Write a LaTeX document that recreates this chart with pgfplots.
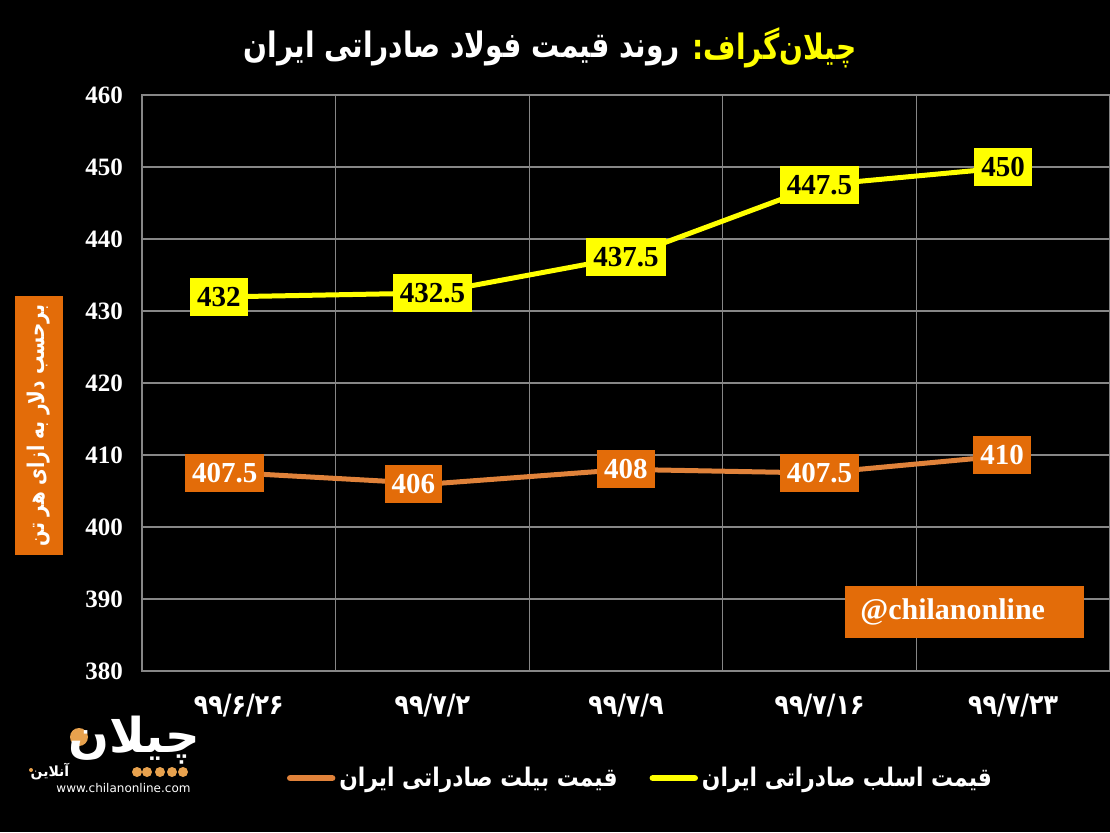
\documentclass[border=0pt]{standalone}
\usepackage{pgfplots}
\pgfplotsset{compat=1.18}
\usepackage{fontspec}
\TeXXeTstate=1
\setmainfont{Liberation Serif}
\newfontfamily\arabicfont[Script=Arabic]{DejaVu Sans}
\newfontfamily\arabiccond[Script=Arabic, FakeStretch=0.8]{DejaVu Sans}
\newfontfamily\arabicleg[Script=Arabic, FakeStretch=0.85]{DejaVu Sans}
\newfontfamily\latinsans{DejaVu Sans}
\definecolor{myorange}{HTML}{E36C09}
\definecolor{billet}{HTML}{E0823A}
\definecolor{slab}{HTML}{FFFF00}
\definecolor{gridgray}{HTML}{868686}
\definecolor{logoorange}{HTML}{E8A24E}
\begin{document}
\begin{tikzpicture}
\fill[black] (0,0) rectangle (555pt,416pt);
\begin{axis}[
 at={(71pt,80.5pt)}, anchor=south west, scale only axis, width=484pt, height=288pt,
 xmin=0, xmax=5, ymin=380, ymax=460,
 xtick={0.5,1.5,2.5,3.5,4.5},
 xticklabels={۹۹/۶/۲۶,۹۹/۷/۲,۹۹/۷/۹,۹۹/۷/۱۶,۹۹/۷/۲۳},
 minor xtick={1,2,3,4},
 xminorgrids=true, xmajorgrids=false, ymajorgrids=true,
 ytick={380,390,400,410,420,430,440,450,460},
 yticklabels={380,390,400,410,420,430,440,450,460},
 major tick length=0pt, minor tick length=0pt,
 axis line style={gridgray, line width=0.6pt},
 grid style={gridgray, line width=0.6pt},
 minor grid style={gridgray, line width=0.6pt},
 xticklabel style={font=\arabicleg\bfseries\fontsize{14}{16}\selectfont, text=white, yshift=-8pt},
 yticklabel style={font=\bfseries\fontsize{12.5}{14}\selectfont, text=white, xshift=-6pt},
 legend style={at={(0.516,-0.186)}, anchor=center, draw=none, fill=none, text=white,
   font=\arabicleg\bfseries\fontsize{12.8}{15}\selectfont, legend columns=2,
   /tikz/every even column/.append style={column sep=14pt}},
 legend image code/.code={\draw[#1, line width=3.2pt, line cap=round] (0pt,0pt) -- (21pt,0pt);},
]
\addplot[billet, line width=2.5pt, line join=round, mark=none,
  nodes near coords, point meta=explicit symbolic,
  every node near coord/.append style={fill=myorange, text=white, anchor=center,
   font=\bfseries\fontsize{14.5}{16}\selectfont, inner xsep=3.5pt, minimum height=19pt},
  coordinate style/.condition={\coordindex==0}{xshift=-7pt},
  coordinate style/.condition={\coordindex==1}{xshift=-9.5pt},
  coordinate style/.condition={\coordindex==4}{xshift=-5.5pt}]
 coordinates {(0.5,407.5) [407.5] (1.5,406) [406] (2.5,408) [408] (3.5,407.5) [407.5] (4.5,410) [410]};
\addlegendentry{\beginR قیمت بیلت صادراتی ایران\endR}
\addplot[slab, line width=2.5pt, line join=round, mark=none,
  nodes near coords, point meta=explicit symbolic,
  every node near coord/.append style={fill=slab, text=black, anchor=center,
   font=\bfseries\fontsize{14.5}{16}\selectfont, inner xsep=3.5pt, minimum height=19pt},
  coordinate style/.condition={\coordindex==0}{xshift=-10pt},
  coordinate style/.condition={\coordindex==4}{xshift=-5pt}]
 coordinates {(0.5,432) [432] (1.5,432.5) [432.5] (2.5,437.5) [437.5] (3.5,447.5) [447.5] (4.5,450) [450]};
\addlegendentry{\beginR قیمت اسلب صادراتی ایران\endR}
\end{axis}
% watermark
\fill[myorange] (422.5pt,97pt) rectangle (542pt,123pt);
\node[anchor=west, text=white, font=\bfseries\fontsize{15}{17}\selectfont, inner sep=0pt] at (430pt,110pt) {@chilanonline};
% y label
\node[fill=myorange, rotate=90, minimum width=129.5pt, minimum height=24pt, text=white,
  font=\arabiccond\bfseries\fontsize{11.5}{13}\selectfont, inner sep=0pt] at (19.5pt,203.25pt) {\beginR برحسب دلار به ازای هر تن\endR};
% title
\node[anchor=east, text=white, font=\arabiccond\bfseries\fontsize{17.5}{21}\selectfont, inner sep=0pt] at (340pt,392pt)
  {\beginR روند قیمت فولاد صادراتی ایران\endR};
\node[anchor=west, text=slab, font=\arabiccond\bfseries\fontsize{17.5}{21}\selectfont, inner sep=0pt] at (346pt,392pt)
  {\beginR چیلان‌گراف:\endR};
% logo
\fill[logoorange] (39.5pt,47.5pt) circle (4.5pt);
\foreach \xx in {68.5,73.5,80,86,91.5} {\fill[logoorange] (\xx pt,30pt) circle (2.5pt);}
\fill[logoorange] (15.5pt,31pt) circle (1pt);
\node[text=white, font=\arabicfont\bfseries\fontsize{24}{26}\selectfont] at (67pt,46pt) {\beginR چیلان\endR};
\node[text=white, font=\arabicfont\bfseries\fontsize{7}{8}\selectfont] at (25pt,30pt) {\beginR آنلاین\endR};
\node[text=white, font=\latinsans\fontsize{6}{7}\selectfont] at (61.75pt,22pt) {www.chilanonline.com};
\pgfresetboundingbox
\path[use as bounding box] (0,0) rectangle (555pt,416pt);
\end{tikzpicture}
\end{document}
